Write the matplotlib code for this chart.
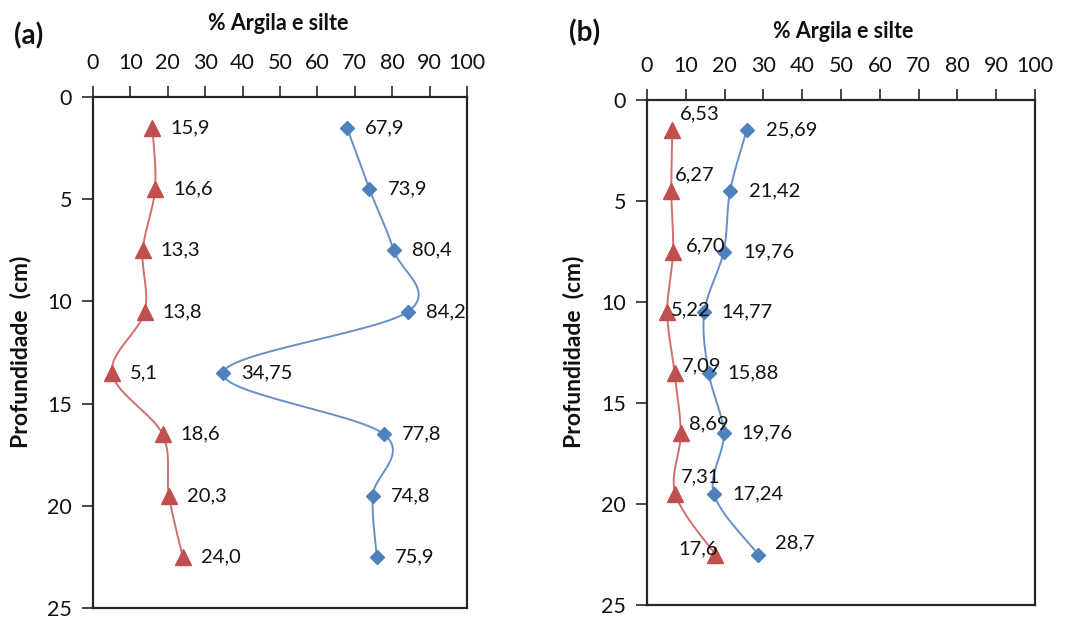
import numpy as np
import matplotlib.pyplot as plt

plt.rcParams['font.family'] = ['Lato', 'DejaVu Sans']

# profundidade media de cada camada (cm)
prof = [1.5, 4.5, 7.5, 10.5, 13.5, 16.5, 19.5, 22.5]

# (a)
argila_a = [15.9, 16.6, 13.3, 13.8, 5.1, 18.6, 20.3, 24.0]
silte_a = [67.9, 73.9, 80.4, 84.2, 34.75, 77.8, 74.8, 75.9]
rot_argila_a = ['15,9', '16,6', '13,3', '13,8', '5,1', '18,6', '20,3', '24,0']
rot_silte_a = ['67,9', '73,9', '80,4', '84,2', '34,75', '77,8', '74,8', '75,9']

# (b)
argila_b = [6.53, 6.27, 6.70, 5.22, 7.09, 8.69, 7.31, 17.6]
silte_b = [25.69, 21.42, 19.76, 14.77, 15.88, 19.76, 17.24, 28.7]
rot_argila_b = ['6,53', '6,27', '6,70', '5,22', '7,09', '8,69', '7,31', '17,6']
rot_silte_b = ['25,69', '21,42', '19,76', '14,77', '15,88', '19,76', '17,24', '28,7']

VERMELHO = '#C0504D'
AZUL = '#4F81BD'
VERMELHO_LINHA = '#D0706C'
AZUL_LINHA = '#6790C6'
ESCURO = '#262626'
TEXTO = '#111111'


def suaviza(x, y, n=30):
    # curva suave estilo Excel (Catmull-Rom) passando pelos pontos
    p = np.column_stack([x, y]).astype(float)
    p = np.vstack([p[0], p, p[-1]])
    out = []
    t = np.linspace(0, 1, n)[:, None]
    for i in range(1, len(p) - 2):
        p0, p1, p2, p3 = p[i - 1], p[i], p[i + 1], p[i + 2]
        c1 = p1 + (p2 - p0) / 6
        c2 = p2 - (p3 - p1) / 6
        seg = ((1 - t) ** 3) * p1 + 3 * ((1 - t) ** 2) * t * c1 + 3 * (1 - t) * t ** 2 * c2 + t ** 3 * p2
        out.append(seg)
    out = np.vstack(out)
    return out[:, 0], out[:, 1]


def serie(ax, x, rotulos, cor, cor_linha, marcador, ms, desloc):
    xs, ys = suaviza(x, prof)
    ax.plot(xs, ys, color=cor_linha, lw=1.4, zorder=2)
    ax.plot(x, prof, ls='none', marker=marcador, ms=ms, color=cor, zorder=3)
    for xi, yi, r, (dx, dy) in zip(x, prof, rotulos, desloc):
        ax.annotate(r, (xi, yi), xytext=(dx, -dy), textcoords='offset pixels',
                    ha='left', va='center', fontsize=14.5, color=TEXTO, zorder=4)


def prepara(ax):
    ax.set_xlim(0, 100)
    ax.set_ylim(25, 0)
    ax.set_xticks(range(0, 101, 10))
    ax.set_yticks(range(0, 26, 5))
    ax.xaxis.tick_top()
    ax.tick_params(axis='both', direction='out', length=8, width=1.2,
                   color=ESCURO, labelsize=15.5, pad=7, labelcolor=TEXTO)
    ax.tick_params(axis='x', pad=9)
    for s in ax.spines.values():
        s.set_color(ESCURO)
        s.set_linewidth(1.6)


fig = plt.figure(figsize=(10.66, 6.17), dpi=100)
W, H = 1066, 617

axa = fig.add_axes([93 / W, 1 - 608 / H, (467 - 93) / W, (608 - 97) / H])
axb = fig.add_axes([647 / W, 1 - 605 / H, (1035 - 647) / W, (605 - 100) / H])

for ax in (axa, axb):
    prepara(ax)

desloc_a = [(18, 0)] * 8
serie(axa, argila_a, rot_argila_a, VERMELHO, VERMELHO_LINHA, '^', 11, desloc_a)
serie(axa, silte_a, rot_silte_a, AZUL, AZUL_LINHA, 'D', 7.5, desloc_a)

desloc_argila_b = [(8, -16), (4, -16), (13, -6), (4, -2), (7, -7), (8, -9), (6, -17), (-37, -6)]
desloc_silte_b = [(19, 0), (19, 0), (20, 0), (17, 0), (19, 0), (18, 0), (18, 0), (17, -12)]
serie(axb, argila_b, rot_argila_b, VERMELHO, VERMELHO_LINHA, '^', 11, desloc_argila_b)
serie(axb, silte_b, rot_silte_b, AZUL, AZUL_LINHA, 'D', 7.5, desloc_silte_b)

# titulos e rotulos dos eixos
fig.text(14 / W, 1 - 36 / H, '(a)', fontsize=20, fontweight='bold', ha='left', va='center', color=TEXTO)
fig.text(569 / W, 1 - 33 / H, '(b)', fontsize=20, fontweight='bold', ha='left', va='center', color=TEXTO)
fig.text(278 / W, 1 - 24 / H, '% Argila e silte', fontsize=15.5, fontweight='bold', ha='center', va='center', color=TEXTO)
fig.text(843 / W, 1 - 31 / H, '% Argila e silte', fontsize=15.5, fontweight='bold', ha='center', va='center', color=TEXTO)
fig.text(21 / W, 1 - 352 / H, 'Profundidade  (cm)', fontsize=16.5, fontweight='bold', rotation=90, ha='center', va='center', color=TEXTO)
fig.text(573 / W, 1 - 352 / H, 'Profundidade  (cm)', fontsize=16.5, fontweight='bold', rotation=90, ha='center', va='center', color=TEXTO)

fig.savefig('out.png', dpi=100, facecolor='white')
